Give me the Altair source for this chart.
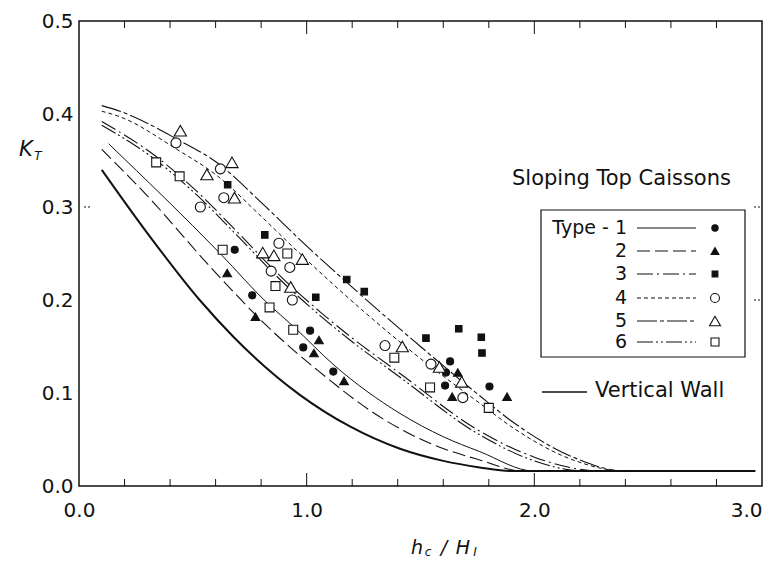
import altair as alt
import pandas as pd

# ---------------- curves (h_c/H_I , K_T) ----------------
vw_x = [0.10, 0.30, 0.53, 0.68, 0.97, 1.19, 1.41, 1.60, 1.76, 1.90, 2.97]
vw_y = [0.340, 0.272, 0.200, 0.160, 0.098, 0.064, 0.040, 0.027, 0.020, 0.016, 0.016]

t1_x = [0.13, 0.62, 0.83, 0.94, 1.12, 1.41, 1.60, 1.76, 2.00, 2.97]
t1_y = [0.368, 0.250, 0.196, 0.172, 0.130, 0.078, 0.053, 0.037, 0.016, 0.016]

t2_x = [0.10, 0.30, 0.59, 0.83, 1.05, 1.33, 1.55, 1.76, 1.95, 2.97]
t2_y = [0.362, 0.312, 0.232, 0.171, 0.124, 0.073, 0.045, 0.028, 0.016, 0.016]

t3_x = [0.10, 0.34, 0.53, 0.68, 0.90, 1.06, 1.19, 1.41, 1.76, 2.00, 2.30, 2.97]
t3_y = [0.392, 0.354, 0.314, 0.277, 0.222, 0.187, 0.161, 0.121, 0.059, 0.031, 0.016, 0.016]

t6_x = [0.10, 0.34, 0.53, 0.68, 0.90, 1.06, 1.19, 1.41, 1.76, 2.00, 2.22, 2.97]
t6_y = [0.388, 0.350, 0.310, 0.273, 0.218, 0.183, 0.157, 0.117, 0.055, 0.027, 0.016, 0.016]

t4_x = [0.10, 0.18, 0.43, 0.61, 0.80, 0.97, 1.24, 1.50, 1.76, 1.91, 2.17, 2.40, 2.97]
t4_y = [0.403, 0.397, 0.362, 0.333, 0.290, 0.250, 0.190, 0.137, 0.089, 0.062, 0.028, 0.016, 0.016]

t5_x = [0.10, 0.18, 0.43, 0.61, 0.80, 0.97, 1.24, 1.50, 1.76, 1.91, 2.17, 2.40, 2.97]
t5_y = [0.409, 0.403, 0.373, 0.347, 0.305, 0.265, 0.205, 0.150, 0.097, 0.068, 0.031, 0.016, 0.016]

# ---------------- measured points ----------------
p1_x = [0.684, 0.761, 1.015, 0.985, 1.117, 1.630, 1.612, 1.608, 1.803]
p1_y = [0.254, 0.205, 0.167, 0.149, 0.123, 0.134, 0.122, 0.108, 0.107]

p2_x = [0.651, 0.775, 1.054, 1.032, 1.164, 1.664, 1.639, 1.880]
p2_y = [0.229, 0.182, 0.157, 0.143, 0.113, 0.122, 0.096, 0.096]

p3_x = [0.653, 0.816, 1.040, 1.176, 1.253, 1.524, 1.668, 1.767, 1.770]
p3_y = [0.324, 0.270, 0.203, 0.222, 0.209, 0.159, 0.169, 0.160, 0.143]

p4_x = [0.426, 0.533, 0.621, 0.636, 0.878, 0.844, 0.926, 0.937, 1.344, 1.546, 1.686]
p4_y = [0.369, 0.300, 0.341, 0.310, 0.261, 0.231, 0.235, 0.200, 0.151, 0.131, 0.095]

p5_x = [0.445, 0.562, 0.672, 0.683, 0.807, 0.856, 0.981, 0.930, 1.420, 1.583, 1.681]
p5_y = [0.382, 0.335, 0.348, 0.310, 0.251, 0.248, 0.244, 0.214, 0.150, 0.128, 0.112]

p6_x = [0.339, 0.442, 0.631, 0.915, 0.863, 0.837, 0.941, 1.385, 1.542, 1.800]
p6_y = [0.348, 0.333, 0.254, 0.250, 0.215, 0.192, 0.168, 0.138, 0.106, 0.084]

# ---------------- axes ----------------
x_labels = [0.0, 1.0, 2.0, 3.0]
y_labels = [0.0, 0.1, 0.2, 0.3, 0.4, 0.5]
x_minor = [0.2, 0.4, 0.6, 0.8, 1.2, 1.4, 1.6, 1.8, 2.2, 2.4, 2.6, 2.8]
x_major = [1.0, 2.0]
y_marks_left = [0.3]
y_marks_right = [0.3, 0.2]

type_labels = ["Type - 1", "2", "3", "4", "5", "6"]

W, H = 683, 465
INK = "#111111"
FONT = "DejaVu Sans"

xs = alt.Scale(domain=[0, 3], nice=False, zero=False)
ys = alt.Scale(domain=[0, 0.5], nice=False, zero=False)
xaxis = alt.Axis(values=x_labels, format=".1f", ticks=False, domain=False, grid=False,
                 labelFont=FONT, labelFontSize=20, labelColor=INK, labelPadding=14,
                 labelAlign=alt.ExprRef("datum.value == 3 ? 'right' : 'center'"),
                 labelFlush=False, title=None)
yaxis = alt.Axis(values=y_labels, format=".1f", ticks=False, domain=False, grid=False,
                 labelFont=FONT, labelFontSize=20, labelColor=INK, labelPadding=6,
                 title=None)


def X(f="x"):
    return alt.X(f"{f}:Q", scale=xs, axis=xaxis, title=None)


def Y(f="y"):
    return alt.Y(f"{f}:Q", scale=ys, axis=yaxis, title=None)


layers = []

curves = [
    (vw_x, vw_y, None, 2.0),
    (t1_x, t1_y, None, 1.0),
    (t2_x, t2_y, [13, 5], 1.1),
    (t3_x, t3_y, [16, 4, 2, 4], 1.1),
    (t6_x, t6_y, [16, 3, 2, 3, 2, 3], 1.1),
    (t4_x, t4_y, [4, 3], 1.0),
    (t5_x, t5_y, [20, 3, 4, 3], 1.1),
]
for cx, cy, dash, sw in curves:
    df = pd.DataFrame({"x": cx, "y": cy})
    kw = dict(color=INK, strokeWidth=sw, interpolate="monotone")
    if dash:
        kw["strokeDash"] = dash
    layers.append(alt.Chart(df).mark_line(**kw).encode(x=X(), y=Y()))

markers = [
    (p1_x, p1_y, "circle", True, 50),
    (p2_x, p2_y, "triangle-up", True, 75),
    (p3_x, p3_y, "square", True, 42),
    (p4_x, p4_y, "circle", False, 100),
    (p5_x, p5_y, "triangle-up", False, 150),
    (p6_x, p6_y, "square", False, 80),
]
for mx, my, shape, filled, size in markers:
    df = pd.DataFrame({"x": mx, "y": my})
    layers.append(
        alt.Chart(df).mark_point(shape=shape, size=size, filled=True, opacity=1,
                                 fill=INK if filled else "white", stroke=INK,
                                 strokeWidth=1.1).encode(x=X(), y=Y()))

# inward ticks on bottom and top
minor_df = pd.DataFrame({"x": x_minor})
major_df = pd.DataFrame({"x": x_major})
for df, ln in [(minor_df, 7), (major_df, 13)]:
    layers.append(alt.Chart(df).mark_rule(color=INK, strokeWidth=1).encode(
        x=X(), y=alt.value(H), y2=alt.value(H - ln)))
    layers.append(alt.Chart(df).mark_rule(color=INK, strokeWidth=1).encode(
        x=X(), y=alt.value(0), y2=alt.value(ln)))
# small marks on left / right frame
layers.append(alt.Chart(pd.DataFrame({"y": y_marks_left})).mark_rule(
    color=INK, strokeWidth=1, strokeDash=[2, 2]).encode(
    y=Y(), x=alt.value(5), x2=alt.value(12)))
layers.append(alt.Chart(pd.DataFrame({"y": y_marks_right})).mark_rule(
    color=INK, strokeWidth=1, strokeDash=[2, 2]).encode(
    y=Y(), x=alt.value(W - 8), x2=alt.value(W)))

one = pd.DataFrame({"k": [0]})

# legend box
LX0, LX1, LY0, LY1 = 462, 666, 189, 336
layers.append(alt.Chart(one).mark_rect(filled=False, stroke=INK, strokeWidth=1.2).encode(
    x=alt.value(LX0), x2=alt.value(LX1), y=alt.value(LY0), y2=alt.value(LY1)))

row_y = [207, 230, 253, 277, 300, 321]
for i, lab in enumerate(type_labels):
    yy = row_y[i]
    layers.append(alt.Chart(one).mark_text(text=lab, font=FONT, fontSize=19, color=INK,
                                           align="right", baseline="middle").encode(
        x=alt.value(548), y=alt.value(yy)))
    cx, cy, dash, sw = curves[[1, 2, 3, 5, 6, 4][i]]
    kw = dict(color=INK, strokeWidth=1.1)
    if dash:
        kw["strokeDash"] = dash
    layers.append(alt.Chart(one).mark_rule(**kw).encode(
        x=alt.value(558), x2=alt.value(617), y=alt.value(yy)))
    mx, my, shape, filled, size = markers[i]
    layers.append(alt.Chart(one).mark_point(shape=shape, size=size * 0.8, filled=True, opacity=1,
                                            fill=INK if filled else "white", stroke=INK,
                                            strokeWidth=1.1).encode(
        x=alt.value(636), y=alt.value(yy)))

# vertical wall legend entry
layers.append(alt.Chart(one).mark_rule(color=INK, strokeWidth=1.5).encode(
    x=alt.value(463), x2=alt.value(508), y=alt.value(371)))
layers.append(alt.Chart(one).mark_text(text="Vertical Wall", font=FONT, fontSize=21, color=INK,
                                       align="left", baseline="middle").encode(
    x=alt.value(516), y=alt.value(370)))

# legend title
layers.append(alt.Chart(one).mark_text(text="Sloping Top Caissons", font=FONT, fontSize=21,
                                       color=INK, align="left", baseline="alphabetic").encode(
    x=alt.value(433), y=alt.value(164)))


# axis titles
def txt(t, x, y, size, style="normal", align="center", baseline="alphabetic"):
    return alt.Chart(one).mark_text(text=t, font=FONT, fontSize=size, fontStyle=style,
                                    color=INK, align=align, baseline=baseline).encode(
        x=alt.value(x), y=alt.value(y))


layers.append(txt("K", -53, 135, 21, "italic"))
layers.append(txt("T", -41, 139, 12, "italic"))
layers.append(txt("h", 338, 533, 19, "italic"))
layers.append(txt("c", 349, 535, 12, "italic"))
layers.append(txt("/", 365, 533, 19, "italic"))
layers.append(txt("H", 384, 533, 19, "italic"))
layers.append(txt("I", 396, 535, 12, "italic"))

chart = alt.layer(*layers).properties(
    width=W, height=H,
    autosize=alt.AutoSizeParams(type="none"),
    padding={"left": 71, "top": 13, "right": 6, "bottom": 77},
).configure_view(stroke=INK, strokeWidth=1.5)

chart.save("out.html", embed_options={"renderer": "svg", "actions": False})
